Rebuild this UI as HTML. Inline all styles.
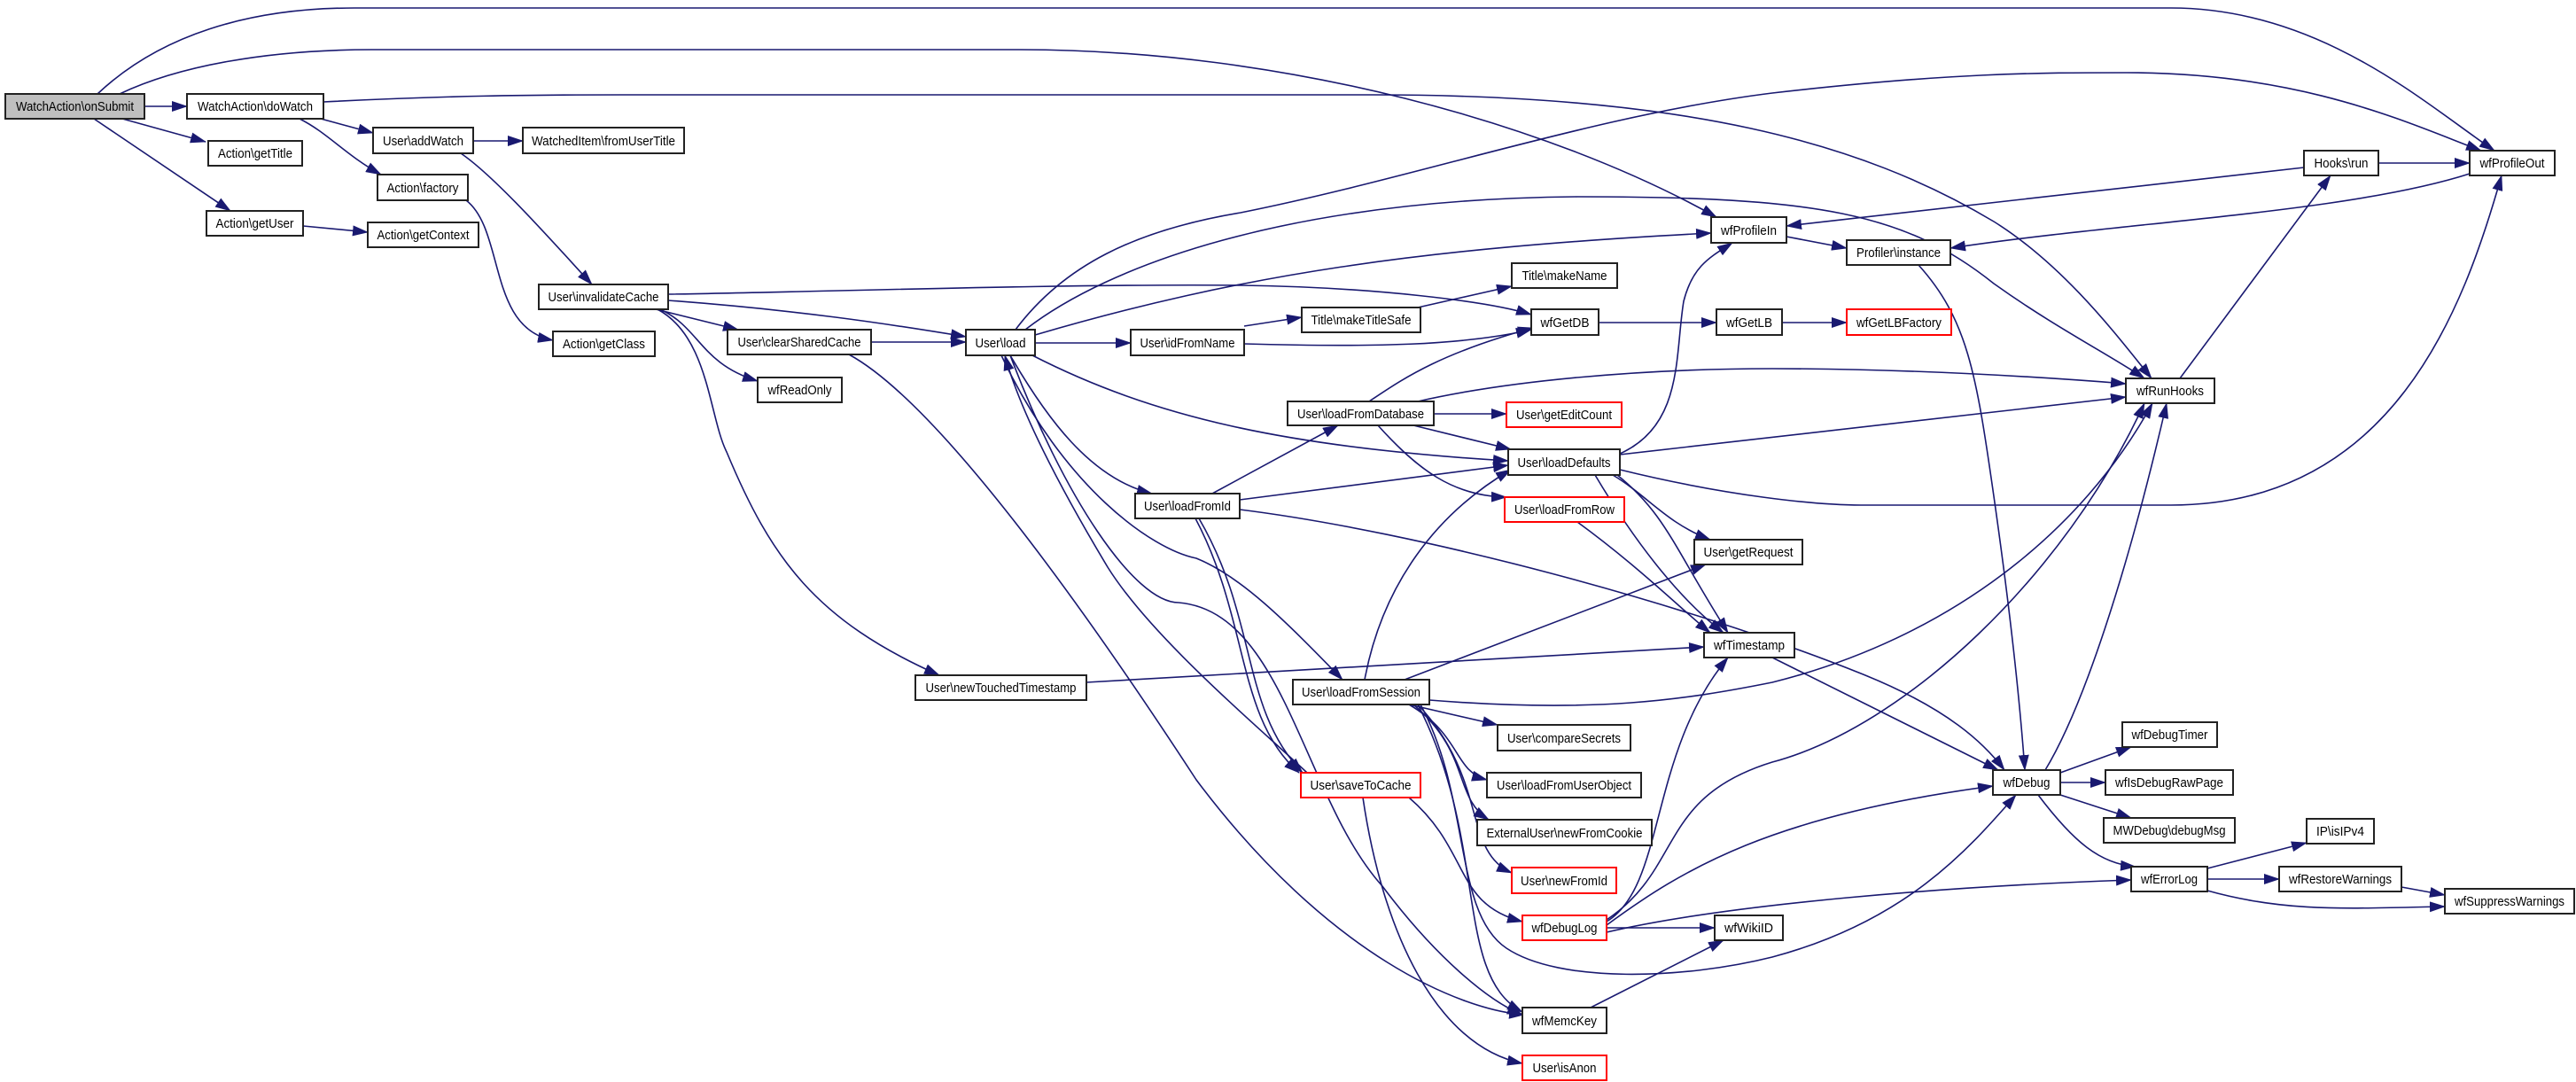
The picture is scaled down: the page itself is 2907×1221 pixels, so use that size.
<!DOCTYPE html>
<html><head><meta charset="utf-8"><style>html,body{margin:0;padding:0;background:#fff}svg{display:block}</style></head><body>
<svg xmlns="http://www.w3.org/2000/svg" width="2907" height="1221" viewBox="0 0 2907 1221">
<defs><marker id="a" markerUnits="userSpaceOnUse" markerWidth="18" markerHeight="12" refX="17" refY="6" orient="auto" viewBox="0 0 18 12"><path d="M0,0 L18,6 L0,12 z" fill="#191970"/></marker></defs>
<g fill="none" stroke="#191970" stroke-width="1.6" marker-end="url(#a)">
<path d="M110,106 C180,40 280,9 400,9 L2450,9 C2620,9 2740,120 2815,170"/>
<path d="M135,106 C200,75 300,56 420,56 L1150,56 C1450,56 1750,140 1937,245"/>
<path d="M163,120 L211,120"/>
<path d="M138,134 L232,160"/>
<path d="M106,134 L260,238"/>
<path d="M365,115 C500,108 600,107 700,107 L1550,107 C1900,107 2100,160 2250,250 C2330,300 2390,380 2428,427"/>
<path d="M362,134 L421,150"/>
<path d="M338,134 C370,150 390,175 430,197"/>
<path d="M534,159 L590,159"/>
<path d="M520,173 C560,200 630,280 668,321"/>
<path d="M526,226 C570,260 550,370 624,384"/>
<path d="M342,255 L415,262"/>
<path d="M754,332 C900,330 1200,320 1400,322 C1550,324 1680,340 1728,355"/>
<path d="M754,339 C900,350 1000,365 1090,380"/>
<path d="M740,349 L833,372"/>
<path d="M745,349 C790,370 790,410 855,430"/>
<path d="M742,349 C800,380 800,470 820,510 C870,630 920,700 1060,762"/>
<path d="M983,386 L1090,386"/>
<path d="M958,400 C1050,450 1200,650 1350,880 C1500,1080 1650,1140 1720,1145"/>
<path d="M1146,372 C1200,300 1280,260 1400,240 C1600,200 1800,130 2000,105 C2200,82 2300,82 2400,82 C2600,82 2720,140 2800,170"/>
<path d="M1157,372 C1250,300 1450,225 1780,222 C2050,222 2150,240 2250,320 C2320,370 2380,400 2420,427"/>
<path d="M1168,378 C1400,310 1600,280 1931,263"/>
<path d="M1168,387 L1276,387"/>
<path d="M1140,401 C1180,470 1230,540 1300,557"/>
<path d="M1165,401 C1300,470 1450,505 1702,520"/>
<path d="M1130,401 C1200,550 1300,620 1350,630 C1400,650 1450,700 1515,767"/>
<path d="M1475,872 C1420,820 1300,720 1250,640 C1190,540 1150,460 1134,401"/>
<path d="M1140,401 C1200,560 1280,680 1330,680 C1450,690 1470,900 1560,1000 C1620,1080 1680,1130 1718,1145"/>
<path d="M1404,368 L1469,358"/>
<path d="M1404,388 C1550,392 1650,390 1728,372"/>
<path d="M1600,347 L1706,323"/>
<path d="M1804,364 L1937,364"/>
<path d="M2011,364 L2084,364"/>
<path d="M2016,267 L2084,280"/>
<path d="M2600,189 L2016,255"/>
<path d="M2684,184 L2787,184"/>
<path d="M2787,196 C2650,240 2400,250 2201,280"/>
<path d="M2165,299 C2220,360 2230,420 2250,560 C2270,700 2280,800 2285,869"/>
<path d="M2460,427 L2630,198"/>
<path d="M1545,453 C1580,430 1620,400 1730,370"/>
<path d="M1618,467 L1700,467"/>
<path d="M1595,480 L1705,507"/>
<path d="M1555,480 C1600,530 1640,560 1700,561"/>
<path d="M1600,453 C1700,430 1850,416 2000,416 C2150,416 2300,425 2399,433"/>
<path d="M1828,512 C1900,480 1890,400 1900,340 C1910,300 1930,290 1955,274"/>
<path d="M1828,513 L2399,448"/>
<path d="M1828,530 C1950,560 2050,570 2100,570 L2450,570 C2700,570 2780,350 2823,198"/>
<path d="M1820,536 C1860,560 1880,590 1930,609"/>
<path d="M1825,536 C1880,580 1890,620 1950,714"/>
<path d="M1800,536 C1850,620 1900,680 1945,714"/>
<path d="M1368,557 L1510,480"/>
<path d="M1399,564 L1702,525"/>
<path d="M1399,575 C1600,600 1900,680 2100,760 C2200,800 2240,840 2262,869"/>
<path d="M1353,585 C1420,700 1400,800 1470,872"/>
<path d="M1349,585 C1410,700 1395,810 1466,872"/>
<path d="M1780,589 C1850,640 1900,690 1930,714"/>
<path d="M1226,770 L1923,730"/>
<path d="M1540,767 C1560,660 1620,580 1705,530"/>
<path d="M1585,767 L1925,637"/>
<path d="M1613,790 C1800,805 1900,790 2000,770 C2200,720 2350,600 2429,455"/>
<path d="M1590,795 L1690,818"/>
<path d="M1590,795 C1650,830 1640,870 1678,880"/>
<path d="M1595,795 C1660,850 1640,900 1680,925"/>
<path d="M1600,795 C1680,880 1650,960 1706,985"/>
<path d="M1590,900 C1660,960 1640,1020 1718,1040"/>
<path d="M1600,795 C1680,950 1640,1100 1718,1142"/>
<path d="M1538,900 C1560,1050 1620,1180 1718,1200"/>
<path d="M1603,795 C1660,900 1640,1030 1700,1070 C1760,1110 1900,1105 2000,1080 C2150,1040 2220,960 2275,897"/>
<path d="M1813,1040 C1880,1000 1860,850 1950,742"/>
<path d="M1813,1044 C1900,980 2000,920 2249,887"/>
<path d="M1813,1038 C1900,980 1870,900 2000,860 C2150,820 2330,650 2420,455"/>
<path d="M1813,1047 L1935,1047"/>
<path d="M1813,1052 C1950,1020 2200,1000 2405,993"/>
<path d="M1795,1137 L1945,1061"/>
<path d="M2000,742 L2255,869"/>
<path d="M2308,869 C2350,800 2400,650 2445,455"/>
<path d="M2325,872 L2405,843"/>
<path d="M2325,883 L2376,883"/>
<path d="M2325,897 L2405,923"/>
<path d="M2300,897 C2340,950 2370,975 2410,978"/>
<path d="M2491,980 L2603,951"/>
<path d="M2491,992 L2572,992"/>
<path d="M2491,1005 C2580,1030 2650,1025 2759,1023"/>
<path d="M2710,1001 L2759,1010"/>
</g>
<g font-family="Liberation Sans, sans-serif" font-size="15" text-anchor="middle" fill="#000" stroke-width="2">
<g stroke="#222">
<rect x="6" y="106" width="157" height="28" fill="#bfbfbf"/>
<rect x="211" y="106" width="154" height="28" fill="#fff"/>
<rect x="235" y="159" width="106" height="28" fill="#fff"/>
<rect x="233" y="238" width="109" height="28" fill="#fff"/>
<rect x="421" y="144" width="113" height="29" fill="#fff"/>
<rect x="590" y="144" width="182" height="29" fill="#fff"/>
<rect x="426" y="197" width="102" height="29" fill="#fff"/>
<rect x="415" y="251" width="125" height="28" fill="#fff"/>
<rect x="608" y="321" width="146" height="28" fill="#fff"/>
<rect x="624" y="374" width="115" height="28" fill="#fff"/>
<rect x="821" y="372" width="162" height="28" fill="#fff"/>
<rect x="855" y="426" width="95" height="28" fill="#fff"/>
<rect x="1033" y="762" width="193" height="28" fill="#fff"/>
<rect x="1090" y="372" width="78" height="29" fill="#fff"/>
<rect x="1276" y="372" width="128" height="29" fill="#fff"/>
<rect x="1469" y="347" width="134" height="28" fill="#fff"/>
<rect x="1706" y="297" width="119" height="28" fill="#fff"/>
<rect x="1728" y="349" width="76" height="29" fill="#fff"/>
<rect x="1931" y="245" width="85" height="29" fill="#fff"/>
<rect x="2084" y="271" width="117" height="28" fill="#fff"/>
<rect x="1937" y="349" width="74" height="29" fill="#fff"/>
<rect x="2600" y="170" width="84" height="28" fill="#fff"/>
<rect x="2787" y="170" width="96" height="28" fill="#fff"/>
<rect x="2399" y="427" width="100" height="28" fill="#fff"/>
<rect x="1453" y="453" width="165" height="27" fill="#fff"/>
<rect x="1702" y="507" width="126" height="29" fill="#fff"/>
<rect x="1281" y="557" width="118" height="28" fill="#fff"/>
<rect x="1459" y="767" width="154" height="28" fill="#fff"/>
<rect x="1690" y="818" width="150" height="29" fill="#fff"/>
<rect x="1678" y="872" width="174" height="28" fill="#fff"/>
<rect x="1667" y="925" width="197" height="29" fill="#fff"/>
<rect x="1718" y="1137" width="95" height="29" fill="#fff"/>
<rect x="1912" y="609" width="122" height="28" fill="#fff"/>
<rect x="1923" y="714" width="102" height="28" fill="#fff"/>
<rect x="2249" y="869" width="76" height="28" fill="#fff"/>
<rect x="2395" y="815" width="107" height="28" fill="#fff"/>
<rect x="2376" y="869" width="144" height="28" fill="#fff"/>
<rect x="2374" y="923" width="148" height="28" fill="#fff"/>
<rect x="2603" y="924" width="76" height="28" fill="#fff"/>
<rect x="2405" y="978" width="86" height="28" fill="#fff"/>
<rect x="2572" y="978" width="138" height="28" fill="#fff"/>
<rect x="2759" y="1003" width="146" height="28" fill="#fff"/>
<rect x="1935" y="1033" width="77" height="28" fill="#fff"/>
</g>
<g stroke="#ff0000">
<rect x="2084" y="349" width="118" height="29" fill="#fff"/>
<rect x="1700" y="454" width="130" height="28" fill="#fff"/>
<rect x="1698" y="561" width="135" height="28" fill="#fff"/>
<rect x="1706" y="979" width="118" height="29" fill="#fff"/>
<rect x="1718" y="1033" width="95" height="28" fill="#fff"/>
<rect x="1718" y="1191" width="95" height="28" fill="#fff"/>
<rect x="1468" y="872" width="135" height="28" fill="#fff"/>
</g>
<g stroke="none" lengthAdjust="spacingAndGlyphs">
<text x="84.5" y="125" textLength="133" lengthAdjust="spacingAndGlyphs">WatchAction\onSubmit</text>
<text x="288" y="125" textLength="130" lengthAdjust="spacingAndGlyphs">WatchAction\doWatch</text>
<text x="288" y="178" textLength="84" lengthAdjust="spacingAndGlyphs">Action\getTitle</text>
<text x="287.5" y="257" textLength="88" lengthAdjust="spacingAndGlyphs">Action\getUser</text>
<text x="477.5" y="164" textLength="91" lengthAdjust="spacingAndGlyphs">User\addWatch</text>
<text x="681" y="164" textLength="162" lengthAdjust="spacingAndGlyphs">WatchedItem\fromUserTitle</text>
<text x="477" y="217" textLength="81" lengthAdjust="spacingAndGlyphs">Action\factory</text>
<text x="477.5" y="270" textLength="104" lengthAdjust="spacingAndGlyphs">Action\getContext</text>
<text x="681" y="340" textLength="125" lengthAdjust="spacingAndGlyphs">User\invalidateCache</text>
<text x="681.5" y="393" textLength="93" lengthAdjust="spacingAndGlyphs">Action\getClass</text>
<text x="902" y="391" textLength="139" lengthAdjust="spacingAndGlyphs">User\clearSharedCache</text>
<text x="902.5" y="445" textLength="72" lengthAdjust="spacingAndGlyphs">wfReadOnly</text>
<text x="1129.5" y="781" textLength="170" lengthAdjust="spacingAndGlyphs">User\newTouchedTimestamp</text>
<text x="1129" y="392" textLength="57" lengthAdjust="spacingAndGlyphs">User\load</text>
<text x="1340" y="392" textLength="107" lengthAdjust="spacingAndGlyphs">User\idFromName</text>
<text x="1536" y="366" textLength="113" lengthAdjust="spacingAndGlyphs">Title\makeTitleSafe</text>
<text x="1765.5" y="316" textLength="96" lengthAdjust="spacingAndGlyphs">Title\makeName</text>
<text x="1766" y="369" textLength="55" lengthAdjust="spacingAndGlyphs">wfGetDB</text>
<text x="1973.5" y="265" textLength="63" lengthAdjust="spacingAndGlyphs">wfProfileIn</text>
<text x="2142.5" y="290" textLength="95" lengthAdjust="spacingAndGlyphs">Profiler\instance</text>
<text x="1974" y="369" textLength="52" lengthAdjust="spacingAndGlyphs">wfGetLB</text>
<text x="2143" y="369" textLength="96" lengthAdjust="spacingAndGlyphs">wfGetLBFactory</text>
<text x="2642" y="189" textLength="61" lengthAdjust="spacingAndGlyphs">Hooks\run</text>
<text x="2835" y="189" textLength="73" lengthAdjust="spacingAndGlyphs">wfProfileOut</text>
<text x="2449" y="446" textLength="76" lengthAdjust="spacingAndGlyphs">wfRunHooks</text>
<text x="1535.5" y="472" textLength="143" lengthAdjust="spacingAndGlyphs">User\loadFromDatabase</text>
<text x="1765" y="473" textLength="108" lengthAdjust="spacingAndGlyphs">User\getEditCount</text>
<text x="1765" y="527" textLength="105" lengthAdjust="spacingAndGlyphs">User\loadDefaults</text>
<text x="1340" y="576" textLength="98" lengthAdjust="spacingAndGlyphs">User\loadFromId</text>
<text x="1765.5" y="580" textLength="113" lengthAdjust="spacingAndGlyphs">User\loadFromRow</text>
<text x="1536" y="786" textLength="134" lengthAdjust="spacingAndGlyphs">User\loadFromSession</text>
<text x="1765" y="838" textLength="128" lengthAdjust="spacingAndGlyphs">User\compareSecrets</text>
<text x="1765" y="891" textLength="152" lengthAdjust="spacingAndGlyphs">User\loadFromUserObject</text>
<text x="1765.5" y="945" textLength="176" lengthAdjust="spacingAndGlyphs">ExternalUser\newFromCookie</text>
<text x="1765" y="999" textLength="98" lengthAdjust="spacingAndGlyphs">User\newFromId</text>
<text x="1765.5" y="1052" textLength="74" lengthAdjust="spacingAndGlyphs">wfDebugLog</text>
<text x="1765.5" y="1157" textLength="73" lengthAdjust="spacingAndGlyphs">wfMemcKey</text>
<text x="1765.5" y="1210" textLength="72" lengthAdjust="spacingAndGlyphs">User\isAnon</text>
<text x="1535.5" y="891" textLength="114" lengthAdjust="spacingAndGlyphs">User\saveToCache</text>
<text x="1973" y="628" textLength="101" lengthAdjust="spacingAndGlyphs">User\getRequest</text>
<text x="1974" y="733" textLength="80" lengthAdjust="spacingAndGlyphs">wfTimestamp</text>
<text x="2287" y="888" textLength="53" lengthAdjust="spacingAndGlyphs">wfDebug</text>
<text x="2448.5" y="834" textLength="86" lengthAdjust="spacingAndGlyphs">wfDebugTimer</text>
<text x="2448" y="888" textLength="122" lengthAdjust="spacingAndGlyphs">wfIsDebugRawPage</text>
<text x="2448" y="942" textLength="127" lengthAdjust="spacingAndGlyphs">MWDebug\debugMsg</text>
<text x="2641" y="943" textLength="54" lengthAdjust="spacingAndGlyphs">IP\isIPv4</text>
<text x="2448" y="997" textLength="64" lengthAdjust="spacingAndGlyphs">wfErrorLog</text>
<text x="2641" y="997" textLength="116" lengthAdjust="spacingAndGlyphs">wfRestoreWarnings</text>
<text x="2832" y="1022" textLength="124" lengthAdjust="spacingAndGlyphs">wfSuppressWarnings</text>
<text x="1973.5" y="1052" textLength="55" lengthAdjust="spacingAndGlyphs">wfWikiID</text>
</g>
</g>
</svg>
</body></html>
